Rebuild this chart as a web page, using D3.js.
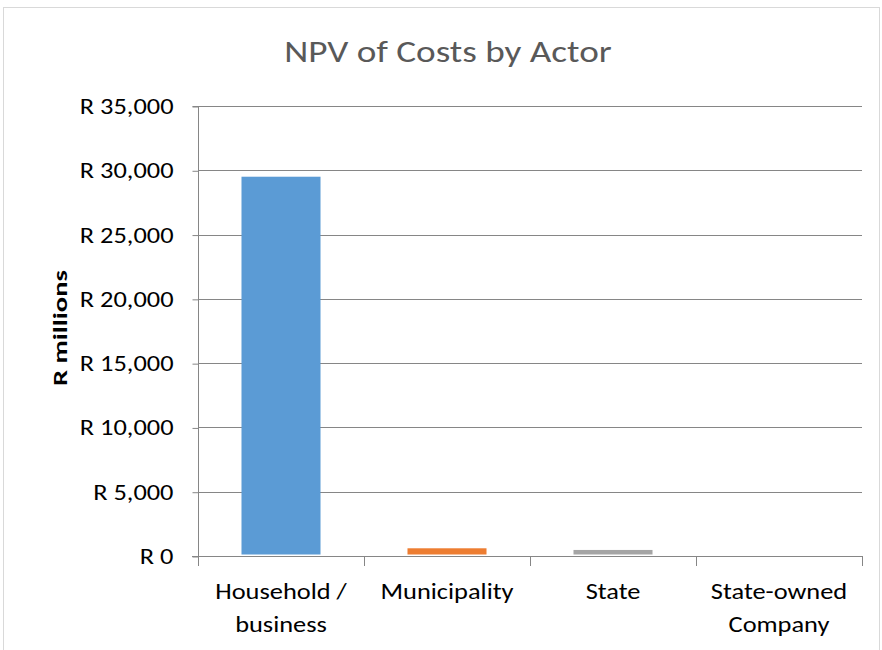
<!DOCTYPE html>
<html>
<head>
<meta charset="utf-8">
<script src="https://cdn.jsdelivr.net/npm/d3@7"></script>
<style>
  body { margin: 0; background: #fff; }
  svg { display: block; font-family: Carlito, Calibri, "Liberation Sans Narrow", "Open Sans", sans-serif; }
</style>
</head>
<body>
<svg width="882" height="650"></svg>
<script>
// Chart data.
const actors = ["Household / business", "Municipality", "State", "State-owned Company"];
const actorLines = [["Household /", "business"], ["Municipality"], ["State"], ["State-owned", "Company"]];
const npvCosts = [29500, 600, 470, 0];
const colors = ["#5B9BD5", "#ED7D31", "#A5A5A5", "#FFC000"];
const yTicks = [0, 5000, 10000, 15000, 20000, 25000, 30000, 35000];

// The reference text is a little wider than Carlito, so stretch it sideways.
const stretch = 1.2;

const svg = d3.select("svg");

// Outer chart frame.
svg.append("rect")
    .attr("x", 3.5).attr("y", 7.5)
    .attr("width", 876).attr("height", 660)
    .attr("fill", "none")
    .attr("stroke", "#d9d9d9");

const plot = { left: 198, right: 862, top: 106, bottom: 556 };

const x = d3.scaleBand()
    .domain(actors)
    .range([plot.left, plot.right])
    .paddingInner(0.524)
    .paddingOuter(0.262);

const y = d3.scaleLinear()
    .domain([0, 35000])
    .range([plot.bottom, plot.top]);

// Title.
svg.append("text")
    .attr("transform", `translate(448,62) scale(${stretch},1)`)
    .attr("text-anchor", "middle")
    .attr("fill", "#595959")
    .style("font-size", "31px")
    .style("font-weight", 300)
    .text("NPV of Costs by Actor");

// Gridlines.
svg.append("g")
    .selectAll("line")
    .data(yTicks.filter(d => d > 0))
    .join("line")
    .attr("x1", plot.left).attr("x2", plot.right)
    .attr("y1", d => Math.round(y(d)) + 0.5)
    .attr("y2", d => Math.round(y(d)) + 0.5)
    .attr("stroke", "#868686")
    .attr("stroke-width", 1);

// Bars.
svg.append("g")
    .selectAll("rect")
    .data(actors)
    .join("rect")
    .attr("x", d => x(d))
    .attr("width", x.bandwidth())
    .attr("y", (d, i) => y(npvCosts[i]))
    .attr("height", (d, i) => Math.max(0, y(0) - y(npvCosts[i]) - 1.5))
    .attr("fill", (d, i) => colors[i]);

// Y axis.
const yAxis = d3.axisLeft(y)
    .tickValues(yTicks)
    .tickSize(6)
    .tickFormat(d => "R " + d3.format(",")(d));

const gy = svg.append("g")
    .attr("transform", `translate(${plot.left + 0.5},0.5)`)
    .call(yAxis);
gy.attr("font-family", null).attr("font-size", null);
gy.select(".domain").attr("stroke", "#868686").attr("d", `M-6,${plot.top}H0V${plot.bottom}`);
gy.selectAll(".tick line").attr("stroke", "#868686");
gy.selectAll(".tick text")
    .attr("x", 0)
    .attr("transform", `translate(-25,0) scale(${stretch},1)`)
    .attr("fill", "#000")
    .style("font-size", "22px");

// X axis line and category separators.
svg.append("line")
    .attr("x1", plot.left - 6).attr("x2", plot.right)
    .attr("y1", plot.bottom + 0.5).attr("y2", plot.bottom + 0.5)
    .attr("stroke", "#868686");

const gap = x.step() - x.bandwidth();
const boundaries = actors.map(d => x(d) - gap / 2).concat([plot.right]);
svg.append("g")
    .selectAll("line")
    .data(boundaries)
    .join("line")
    .attr("x1", d => Math.round(d) + 0.5).attr("x2", d => Math.round(d) + 0.5)
    .attr("y1", plot.bottom).attr("y2", plot.bottom + 10)
    .attr("stroke", "#868686");

// Category labels.
svg.append("g")
    .selectAll("text")
    .data(actors)
    .join("text")
    .attr("transform", d => `translate(${x(d) + x.bandwidth() / 2},599) scale(${stretch},1)`)
    .attr("text-anchor", "middle")
    .attr("fill", "#000")
    .style("font-size", "22px")
    .each(function (d, i) {
        d3.select(this).selectAll("tspan")
            .data(actorLines[i])
            .join("tspan")
            .attr("x", 0)
            .attr("dy", (t, j) => j === 0 ? 0 : 33)
            .text(t => t);
    });

// Y axis title.
svg.append("text")
    .attr("transform", `translate(67,${(plot.top + plot.bottom) / 2 - 3}) rotate(-90) scale(1.36,1)`)
    .attr("text-anchor", "middle")
    .attr("fill", "#000")
    .style("font-size", "21px")
    .style("font-weight", "bold")
    .text("R millions");
</script>
</body>
</html>
